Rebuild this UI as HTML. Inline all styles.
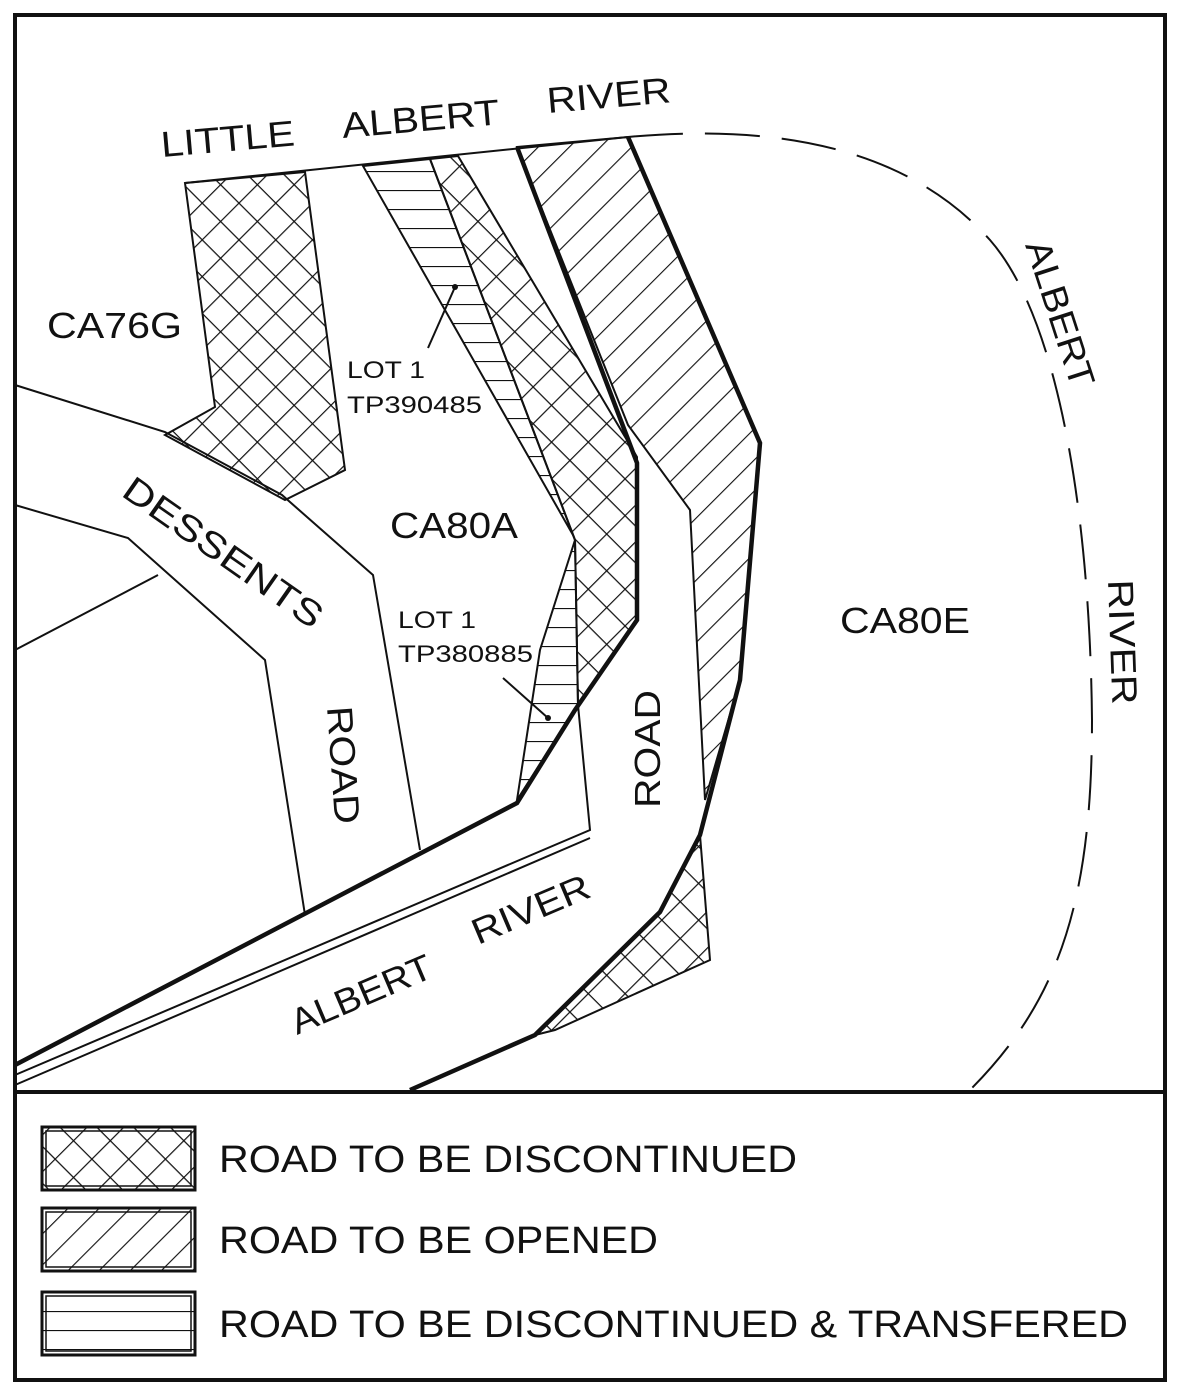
<!DOCTYPE html>
<html><head><meta charset="utf-8"><style>
html,body{margin:0;padding:0;background:#fff}
svg{display:block}
text{font-family:"Liberation Sans",Arial,sans-serif;fill:#111}
</style></head><body>
<svg width="1181" height="1396" viewBox="0 0 1181 1396" xmlns="http://www.w3.org/2000/svg">
<defs>
<pattern id="xh" width="26" height="26" patternUnits="userSpaceOnUse" patternTransform="rotate(45)">
<path d="M0 0H26M0 0V26" stroke="#111" stroke-width="2.4" fill="none"/>
</pattern>
<pattern id="dh" width="22" height="22" patternUnits="userSpaceOnUse" patternTransform="rotate(-45)">
<path d="M0 0H22" stroke="#111" stroke-width="2.2"/>
</pattern>
<pattern id="hh" width="20" height="19" patternUnits="userSpaceOnUse">
<path d="M0 0H20" stroke="#111" stroke-width="2.2"/>
</pattern>
</defs>
<rect x="15" y="15" width="1150" height="1365" fill="#fff" stroke="#111" stroke-width="4"/>
<line x1="15" y1="1092" x2="1165" y2="1092" stroke="#111" stroke-width="4"/>

<g stroke="#111" stroke-width="2" fill="none">
<polygon points="185,183 305,172 345,470 285,500 165,435 215,407" fill="url(#xh)"/>
<polygon points="430,159 458,156 637,457 637,620 578,705 575,540" fill="url(#xh)"/>
<polygon points="363,166 430,159 575,540 573,535" fill="url(#hh)"/>
<polygon points="575,540 578,705 517,800 540,650" fill="url(#hh)"/>
<polygon points="517,147 628,137 760,443 740,680 705,800 690,510 628,425" fill="url(#dh)"/>
<polygon points="535,1035 660,912 700,835 710,960 555,1030" fill="url(#xh)"/>

<line x1="185" y1="183" x2="628" y2="137"/>
<path d="M628,137 C760,125 900,140 990,240 C1060,320 1090,520 1092,720 C1092,900 1060,1000 970,1090" stroke-dasharray="55,22"/>

<polyline points="15,385 165,432 282,495 373,575 420,850"/>
<polyline points="15,505 128,538 265,660 305,915"/>
<line x1="15" y1="650" x2="158" y2="575"/>

<polyline points="578,705 590,830 15,1075"/>
<line x1="15" y1="1085" x2="590" y2="838"/>
</g>
<g stroke="#111" stroke-width="4.5" fill="none">
<polyline points="15,1065 517,803 575,710 637,620 637,463 517,147"/>
<polyline points="410,1090 535,1035 660,912 700,835 740,680 760,443 628,137"/>
</g>
<g stroke="#111" stroke-width="2">
<line x1="455" y1="287" x2="428" y2="348"/>
<line x1="503" y1="678" x2="548" y2="718"/>
</g>
<circle cx="455" cy="287" r="3" fill="#111"/>
<circle cx="548" cy="718" r="3" fill="#111"/>

<g font-size="36" lengthAdjust="spacingAndGlyphs">
<text transform="translate(162,157) rotate(-5)" textLength="134" lengthAdjust="spacingAndGlyphs">LITTLE</text>
<text transform="translate(343,138) rotate(-5)" textLength="158" lengthAdjust="spacingAndGlyphs">ALBERT</text>
<text transform="translate(548,113) rotate(-5)" textLength="124" lengthAdjust="spacingAndGlyphs">RIVER</text>
<text x="47" y="338" textLength="135" lengthAdjust="spacingAndGlyphs">CA76G</text>
<text x="390" y="538" textLength="128" lengthAdjust="spacingAndGlyphs">CA80A</text>
<text x="840" y="633" textLength="130" lengthAdjust="spacingAndGlyphs">CA80E</text>
<text transform="translate(1025,245) rotate(72)" textLength="152" lengthAdjust="spacingAndGlyphs">ALBERT</text>
<text transform="translate(1108,580) rotate(88)" textLength="125" lengthAdjust="spacingAndGlyphs">RIVER</text>
<text transform="translate(120,495) rotate(35)" textLength="235" lengthAdjust="spacingAndGlyphs">DESSENTS</text>
<text transform="translate(327,707) rotate(86)" textLength="118" lengthAdjust="spacingAndGlyphs">ROAD</text>
<text transform="translate(660,808) rotate(-90)" textLength="118" lengthAdjust="spacingAndGlyphs">ROAD</text>
<text transform="translate(297,1035) rotate(-23)" textLength="150" lengthAdjust="spacingAndGlyphs">ALBERT</text>
<text transform="translate(478,945) rotate(-23)" textLength="125" lengthAdjust="spacingAndGlyphs">RIVER</text>
</g>
<g font-size="24">
<text x="347" y="378" textLength="78" lengthAdjust="spacingAndGlyphs">LOT 1</text>
<text x="347" y="413" textLength="135" lengthAdjust="spacingAndGlyphs">TP390485</text>
<text x="398" y="628" textLength="78" lengthAdjust="spacingAndGlyphs">LOT 1</text>
<text x="398" y="662" textLength="135" lengthAdjust="spacingAndGlyphs">TP380885</text>
</g>

<g stroke="#111" fill="none">
<rect x="42" y="1127" width="153" height="63" stroke-width="3" fill="url(#xh)"/>
<rect x="46" y="1131" width="145" height="55" stroke-width="1.5"/>
<rect x="42" y="1208" width="153" height="63" stroke-width="3" fill="url(#dh)"/>
<rect x="46" y="1212" width="145" height="55" stroke-width="1.5"/>
<rect x="42" y="1292" width="153" height="63" stroke-width="3" fill="url(#hh)"/>
<rect x="46" y="1296" width="145" height="55" stroke-width="1.5"/>
</g>
<g font-size="38">
<text x="219" y="1172" textLength="578" lengthAdjust="spacingAndGlyphs">ROAD TO BE DISCONTINUED</text>
<text x="219" y="1253" textLength="439" lengthAdjust="spacingAndGlyphs">ROAD TO BE OPENED</text>
<text x="219" y="1337" textLength="909" lengthAdjust="spacingAndGlyphs">ROAD TO BE DISCONTINUED &amp; TRANSFERED</text>
</g>
</svg>
</body></html>
